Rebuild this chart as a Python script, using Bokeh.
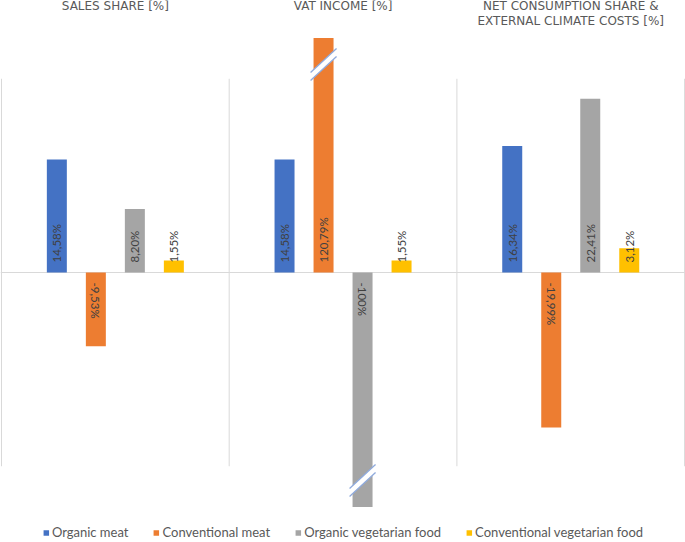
import math
from bokeh.plotting import figure
from bokeh.models import Range1d, Label, Legend, LegendItem, ColumnDataSource, Span
from bokeh.embed import file_html
from bokeh.resources import INLINE
from bokeh.core.properties import value

# ---------------- data ----------------
panel_titles = [["SALES SHARE [%]"], ["VAT INCOME [%]"],
                ["NET CONSUMPTION SHARE &", "EXTERNAL CLIMATE COSTS [%]"]]
series_names = ["Organic meat", "Conventional meat", "Organic vegetarian food",
                "Conventional vegetarian food"]
series_colors = ["#4472C4", "#ED7D31", "#A5A5A5", "#FFC000"]
organic_meat = [14.58, 14.58, 16.34]
conventional_meat = [-9.53, 120.79, -19.99]
organic_veg = [8.20, -100.0, 22.41]
conventional_veg = [1.55, 1.55, 3.12]
series_values = [organic_meat, conventional_meat, organic_veg, conventional_veg]

# axis: visible band -25..25, bars beyond are broken at +-cap
AXIS_LIM = 25.0
CAP = 30.25

# ---------------- layout ----------------
W, H = 685, 542
X0, X1 = -0.0044, 3.004
Y0, Y1 = -34.84, 35.1
PXX = W / (X1 - X0)
PXY = H / (Y1 - Y0)
BAR_W = 0.0878
STEP = 0.1713
LABEL_GAP = 10.0 / PXY

p = figure(width=W, height=H, x_range=Range1d(X0, X1), y_range=Range1d(Y0, Y1),
           output_backend="svg", toolbar_location=None,
           x_axis_type=None, y_axis_type=None, min_border=0)
p.grid.visible = False
p.outline_line_color = None
p.background_fill_color = "white"

# zero line and panel separators
p.add_layout(Span(location=0, dimension="width", line_color="#D9D9D9",
                  line_width=1, level="underlay"))
n_panels = len(panel_titles)
p.segment(x0=list(range(n_panels + 1)), y0=[-AXIS_LIM] * (n_panels + 1),
          x1=list(range(n_panels + 1)), y1=[AXIS_LIM] * (n_panels + 1),
          line_color="#D9D9D9", line_width=1)


def fmt(v):
    if float(v).is_integer():
        return f"{int(v)}%"
    return f"{v:.2f}".replace(".", ",") + "%"


renderers = []
break_xs, break_ys, edge_xs, edge_ys = [], [], [], []
for s, (name, col, vals) in enumerate(zip(series_names, series_colors, series_values)):
    xs = [k + 0.5 + (s - 1.5) * STEP for k in range(n_panels)]
    tops = [max(-CAP, min(CAP, v)) for v in vals]
    src = ColumnDataSource(dict(x=xs, top=tops, val=vals))
    r = p.vbar(x="x", top="top", bottom=0, width=BAR_W, source=src,
               fill_color=col, line_color=None)
    renderers.append(r)

    pos = [(x, v) for x, v in zip(xs, vals) if v >= 0]
    neg = [(x, v) for x, v in zip(xs, vals) if v < 0]
    if pos:
        p.text(x=[a for a, _ in pos], y=[LABEL_GAP] * len(pos),
               text=[fmt(v) for _, v in pos], angle=math.pi / 2,
               text_align="left", text_baseline="middle",
               text_font=value("Lato"), text_font_size="11.5px", text_color="#404040")
    if neg:
        p.text(x=[a for a, _ in neg], y=[-LABEL_GAP] * len(neg),
               text=[fmt(v) for _, v in neg], angle=-math.pi / 2,
               text_align="left", text_baseline="middle",
               text_font=value("Lato"), text_font_size="11.5px", text_color="#404040")

    # axis-break marks for bars beyond the cap
    for x, v in zip(xs, vals):
        if abs(v) > CAP:
            sign = 1 if v > 0 else -1
            yc = sign * (CAP - 3.4)
            dx = 13.0 / PXX
            dy = 12.0 / PXY
            off = 4.0 / PXY
            break_xs.append([x - dx, x + dx, x + dx, x - dx])
            break_ys.append([yc - dy - off, yc + dy - off, yc + dy + off, yc - dy + off])
            edge_xs += [[x - dx, x + dx], [x - dx, x + dx]]
            edge_ys += [[yc - dy - off, yc + dy - off], [yc - dy + off, yc + dy + off]]

p.patches(xs=break_xs, ys=break_ys, fill_color="white", line_color=None)
p.multi_line(xs=edge_xs, ys=edge_ys, line_color="#8FAADC", line_width=1.3)

# panel titles
for k, lines in enumerate(panel_titles):
    for j, t in enumerate(lines):
        p.add_layout(Label(x=k + 0.5, y=H - 5.5 - 14.5 * j, y_units="screen", text=t,
                           text_align="center", text_baseline="middle",
                           text_font="DejaVu Sans", text_font_size="12px",
                           text_color="#595959"))

legend = Legend(items=[LegendItem(label=n, renderers=[r]) for n, r in zip(series_names, renderers)],
                orientation="horizontal", location="bottom_center",
                border_line_color=None, background_fill_alpha=0,
                label_text_font="Lato", label_text_font_size="13px",
                label_text_color="#595959", glyph_width=7, glyph_height=7,
                label_standoff=3, spacing=24, padding=0, margin=2,
                label_height=14, label_width=10)
p.add_layout(legend)

open("out.html", "w").write(file_html(p, INLINE))
